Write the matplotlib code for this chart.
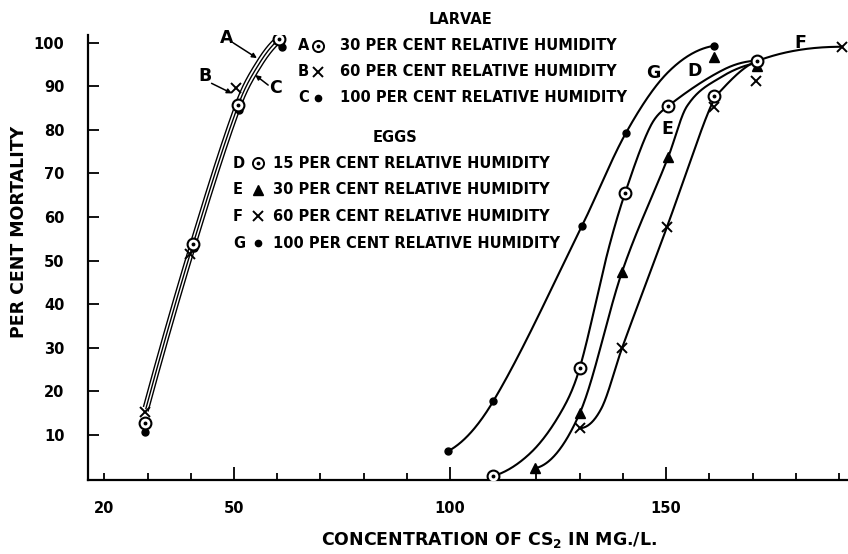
import numpy as np
import matplotlib
matplotlib.use("Agg")
import matplotlib.pyplot as plt
from matplotlib.transforms import offset_copy

plt.rcParams['font.family'] = ['DejaVu Sans']

# ---------------- data ----------------
# Larvae
A_x = [29.5, 40.5, 51.0, 60.5]          # 30 % RH  (circle)
A_y = [12.6, 53.7, 85.8, 100.9]
B_x = [29.5, 39.7, 50.5, 60.5]          # 60 % RH  (cross)
B_y = [15.2, 51.5, 89.7, 100.9]
C_x = [29.5, 40.7, 51.2, 61.0]          # 100 % RH (dot)
C_y = [10.6, 52.9, 84.6, 99.1]
LARVAE_curve_x = [29.6, 40.5, 51.0, 56.0, 60.5]
LARVAE_curve_y = [16.0, 53.7, 85.8, 95.5, 100.9]

# Eggs
D_x = [110, 130, 140.5, 150.5, 161, 171]      # 15 % RH (circle)
D_y = [0.5, 25.3, 65.5, 85.5, 87.8, 95.9]
E_x = [119.7, 130, 139.8, 150.5, 161, 171]    # 30 % RH (triangle)
E_y = [2.3, 14.9, 47.4, 73.8, 96.8, 94.6]
F_x = [130, 139.8, 150.2, 161, 170.8, 190.7]  # 60 % RH (cross)
F_y = [11.5, 29.9, 57.7, 85.3, 91.3, 99.1]
G_x = [99.5, 110, 130.5, 140.7, 161]          # 100 % RH (dot)
G_y = [6.2, 17.7, 57.9, 79.3, 99.3]

# hand-drawn curve paths
D_curve_x = [110, 118.5, 125.5, 130, 136.5, 140.5, 146.3, 150.5, 163.2, 171]
D_curve_y = [0.5, 5.7, 14.9, 25.3, 52.0, 65.5, 80.7, 85.5, 93.8, 95.9]
E_curve_x = [119.7, 130, 139.8, 150.5, 154.8, 162.5, 171]
E_curve_y = [2.3, 14.9, 47.4, 73.8, 85.4, 92.0, 95.4]
F_curve_x = [130, 135, 139.8, 150.2, 154.9, 159.5, 162, 171, 190.7]
F_curve_y = [11.5, 16.0, 29.9, 57.7, 70.8, 83.4, 88.3, 95.8, 99.1]
G_curve_x = [99.5, 110, 130.5, 140.7, 150.5, 161]
G_curve_y = [6.2, 17.7, 57.9, 79.3, 93.3, 99.3]

x_ticks = [20, 50, 100, 150]
y_ticks = [10, 20, 30, 40, 50, 60, 70, 80, 90, 100]

larvae_labels = ["30 PER CENT RELATIVE HUMIDITY", "60 PER CENT RELATIVE HUMIDITY",
                 "100 PER CENT RELATIVE HUMIDITY"]
eggs_labels = ["15 PER CENT RELATIVE HUMIDITY", "30 PER CENT RELATIVE HUMIDITY",
               "60 PER CENT RELATIVE HUMIDITY", "100 PER CENT RELATIVE HUMIDITY"]


def smooth(xk, yk, xs):
    """Cubic Hermite curve with centred-difference tangents (French-curve look)."""
    xk = np.asarray(xk, float); yk = np.asarray(yk, float)
    h = np.diff(xk); d = np.diff(yk) / h
    n = len(xk)
    m = np.zeros(n)
    for i in range(1, n - 1):
        m[i] = (yk[i + 1] - yk[i - 1]) / (xk[i + 1] - xk[i - 1])
    m[0] = max(2 * d[0] - m[1], 0.0)
    m[-1] = max(2 * d[-1] - m[-2], 0.0)
    ys = np.empty_like(xs)
    idx = np.clip(np.searchsorted(xk, xs) - 1, 0, n - 2)
    for j, (x, i) in enumerate(zip(xs, idx)):
        t = (x - xk[i]) / h[i]
        h00 = 2 * t**3 - 3 * t**2 + 1; h10 = t**3 - 2 * t**2 + t
        h01 = -2 * t**3 + 3 * t**2; h11 = t**3 - t**2
        ys[j] = h00 * yk[i] + h10 * h[i] * m[i] + h01 * yk[i + 1] + h11 * h[i] * m[i + 1]
    return ys


W, H = 848, 554
fig = plt.figure(figsize=(W / 100, H / 100), dpi=100)
ax = fig.add_axes([88 / W, 1 - 480 / H, 1 - 88 / W, (480 - 35) / H])
ax.set_xlim(16.2, 192.1)
ax.set_ylim(-0.4, 101.8)

for s in ['top', 'right']:
    ax.spines[s].set_visible(False)
for s in ['left', 'bottom']:
    ax.spines[s].set_linewidth(1.6)

ax.set_xticks(x_ticks)
ax.set_xticks(np.arange(20, 191, 10), minor=True)
ax.set_yticks(y_ticks)
ax.tick_params(axis='x', which='major', direction='in', length=9.5, width=1.3,
               labelsize=10.5, pad=15)
ax.tick_params(axis='x', which='minor', direction='in', length=5, width=1.3)
ax.tick_params(axis='y', which='major', direction='in', length=8, width=1.3,
               labelsize=10.5, pad=17)
for lbl in ax.get_xticklabels() + ax.get_yticklabels():
    lbl.set_fontweight('bold')
ax.xaxis.get_major_ticks()[0].tick1line.set_markersize(5)

# larvae triple line
xs = np.linspace(LARVAE_curve_x[0], LARVAE_curve_x[-1], 200)
ys = smooth(LARVAE_curve_x, LARVAE_curve_y, xs)
for dx, dy in [(-2.3, 2.3), (0, 0), (2.3, -2.3)]:
    tr = offset_copy(ax.transData, fig=fig, x=dx, y=dy, units='dots')
    ax.plot(xs, ys, color='k', lw=1.0, transform=tr, zorder=2)

# egg curves
for cx, cy in [(D_curve_x, D_curve_y), (E_curve_x, E_curve_y),
               (F_curve_x, F_curve_y), (G_curve_x, G_curve_y)]:
    xs = np.linspace(cx[0], cx[-1], 400)
    ax.plot(xs, smooth(cx, cy, xs), color='k', lw=1.5, zorder=2)


def circ(x, y, **kw):
    ax.plot(x, y, 'o', mfc='white', mec='k', ms=8.5, mew=1.5, zorder=4, **kw)
    ax.plot(x, y, 'o', color='k', ms=1.8, zorder=5, **kw)


def cross(x, y, **kw):
    ax.plot(x, y, 'x', color='k', ms=6.5, mew=1.4, zorder=4, **kw)


def dot(x, y, **kw):
    ax.plot(x, y, 'o', color='k', ms=5, zorder=3, **kw)


def tri(x, y, **kw):
    ax.plot(x, y, '^', color='k', ms=7, zorder=3, **kw)


dot(C_x, C_y)
cross(B_x, B_y)
circ(A_x, A_y)
dot(G_x, G_y)
tri(E_x, E_y)
cross(F_x, F_y)
circ(D_x, D_y)

# curve letters with arrows (larvae)
lab_kw = dict(fontsize=12.5, fontweight='bold', ha='center', va='center')
ax.text(48.3, 101.1, 'A', **lab_kw)
ax.text(43.3, 92.3, 'B', **lab_kw)
ax.text(59.5, 89.6, 'C', **lab_kw)
arr = dict(arrowstyle='-|>', lw=1.1, color='k', mutation_scale=7, shrinkA=0, shrinkB=0)
ax.annotate('', xy=(55.3, 96.5), xytext=(49.8, 100.0), arrowprops=arr)
ax.annotate('', xy=(49.5, 88.4), xytext=(44.8, 90.7), arrowprops=arr)
ax.annotate('', xy=(54.9, 92.6), xytext=(57.9, 90.3), arrowprops=arr)
# eggs
ax.text(147.0, 93.1, 'G', **lab_kw)
ax.text(156.7, 93.6, 'D', **lab_kw)
ax.text(150.2, 80.2, 'E', **lab_kw)
ax.text(181.0, 100.0, 'F', **lab_kw, clip_on=False)


# legend block (figure pixels)
def ft(x, y, s, **kw):
    fig.text(x / W, 1 - y / H, s, **kw)


def fmark(x, y, kind):
    X, Y = [x / W], [1 - y / H]
    kw = dict(transform=fig.transFigure, clip_on=False)
    if kind == 'circ':
        ax.plot(X, Y, 'o', mfc='white', mec='k', ms=8, mew=1.4, **kw)
        ax.plot(X, Y, 'o', color='k', ms=1.8, **kw)
    elif kind == 'cross':
        ax.plot(X, Y, 'x', color='k', ms=6.5, mew=1.4, **kw)
    elif kind == 'dot':
        ax.plot(X, Y, 'o', color='k', ms=4.5, **kw)
    else:
        ax.plot(X, Y, '^', color='k', ms=7, **kw)


leg_kw = dict(fontsize=10.5, fontweight='bold', va='center')
ft(461, 20, 'LARVAE', ha='center', **leg_kw)
for i, (let, kind, lab) in enumerate(zip('ABC', ['circ', 'cross', 'dot'], larvae_labels)):
    y = 46 + 26 * i
    ft(298, y, let, ha='left', **leg_kw)
    fmark(318, y, kind)
    ft(340, y, lab, ha='left', **leg_kw)
ft(395, 138, 'EGGS', ha='center', **leg_kw)
for i, (let, kind, lab) in enumerate(zip('DEFG', ['circ', 'tri', 'cross', 'dot'], eggs_labels)):
    y = 163 + 26.7 * i
    ft(233, y, let, ha='left', **leg_kw)
    fmark(258, y, kind)
    ft(273, y, lab, ha='left', **leg_kw)

ft(19, 232, 'PER CENT MORTALITY', ha='center', va='center', rotation=90,
   fontsize=12.5, fontweight='bold')
ft(489, 540, r'CONCENTRATION OF CS$_{\mathregular{2}}$ IN MG./L.', ha='center',
   va='center', fontsize=12.5, fontweight='bold')

fig.savefig('out.png', dpi=100)
